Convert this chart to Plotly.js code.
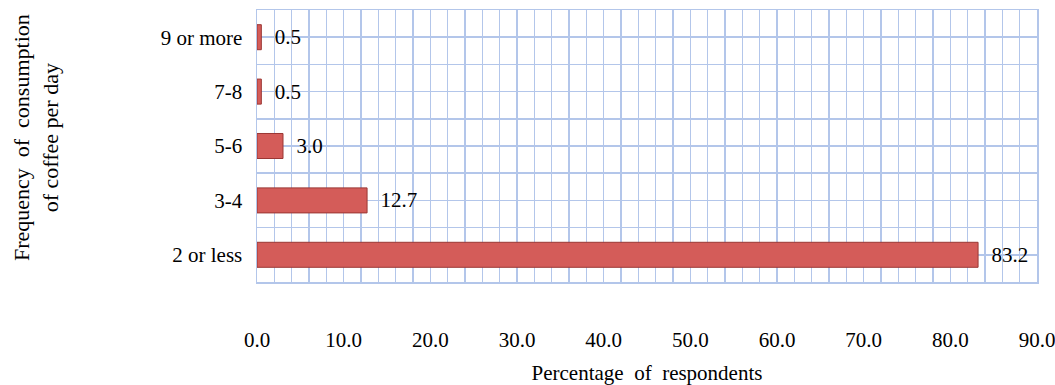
<!DOCTYPE html>
<html><head><meta charset="utf-8">
<script src="https://cdn.plot.ly/plotly-3.0.1.min.js"></script>
<style>html,body{margin:0;padding:0;background:#fff}#chart{width:1055px;height:385px}</style>
</head><body><div id="chart"></div>
<script>
const categories = ["2 or less", "3-4", "5-6", "7-8", "9 or more"];
const percentages = [83.2, 12.7, 3.0, 0.5, 0.5];
const xTickValues = [0, 10, 20, 30, 40, 50, 60, 70, 80, 90];
const xTickLabels = ["0.0", "10.0", "20.0", "30.0", "40.0", "50.0", "60.0", "70.0", "80.0", "90.0"];

const positions = categories.map((c, i) => i);
const font = "Liberation Serif, Times New Roman, serif";
const grid = "#b3c6ea";

const trace = {
  type: "bar",
  orientation: "h",
  x: percentages,
  y: positions,
  width: 0.46,
  marker: {color: "#d45c59", line: {color: "#9b3734", width: 1}},
  text: percentages.map(v => "\u2002" + v.toFixed(1)),
  textposition: "outside",
  textfont: {family: font, size: 21, color: "#000"},
  cliponaxis: false,
  hoverinfo: "skip"
};

const layout = {
  width: 1055, height: 385,
  margin: {l: 257, r: 18, t: 10, b: 103},
  paper_bgcolor: "#fff", plot_bgcolor: "#fff",
  showlegend: false,
  xaxis: {
    range: [0, 90],
    tickmode: "array", tickvals: xTickValues, ticktext: xTickLabels,
    ticks: "", ticklabelstandoff: 38, ticklabeloverflow: "allow",
    tickfont: {family: font, size: 21, color: "#000"},
    showgrid: true, gridcolor: grid, gridwidth: 1.5,
    minor: {dtick: 2, tick0: 0, showgrid: true, gridcolor: grid, gridwidth: 1.5},
    showline: true, mirror: true, linecolor: grid, linewidth: 1.5,
    zeroline: false,
    title: {text: "Percentage  of  respondents", font: {family: font, size: 21, color: "#000"}, standoff: 14}
  },
  yaxis: {
    range: [-0.5, 4.5],
    tickmode: "array", tickvals: positions, ticktext: categories,
    ticks: "", ticklabelstandoff: 9,
    tickfont: {family: font, size: 21, color: "#000"},
    showgrid: true, gridcolor: grid, gridwidth: 1.5,
    minor: {dtick: 1, tick0: 0.5, showgrid: true, gridcolor: grid, gridwidth: 1.5},
    showline: true, mirror: true, linecolor: grid, linewidth: 1.5,
    zeroline: false
  },
  annotations: [{
    text: "Frequency  of  consumption<br>of coffee per day",
    xref: "paper", yref: "paper", x: -0.283, y: 0.53,
    xanchor: "center", yanchor: "middle",
    showarrow: false, textangle: -90,
    font: {family: font, size: 22, color: "#000"}
  }]
};

Plotly.newPlot("chart", [trace], layout, {displayModeBar: false, staticPlot: true});
</script>
</body></html>
